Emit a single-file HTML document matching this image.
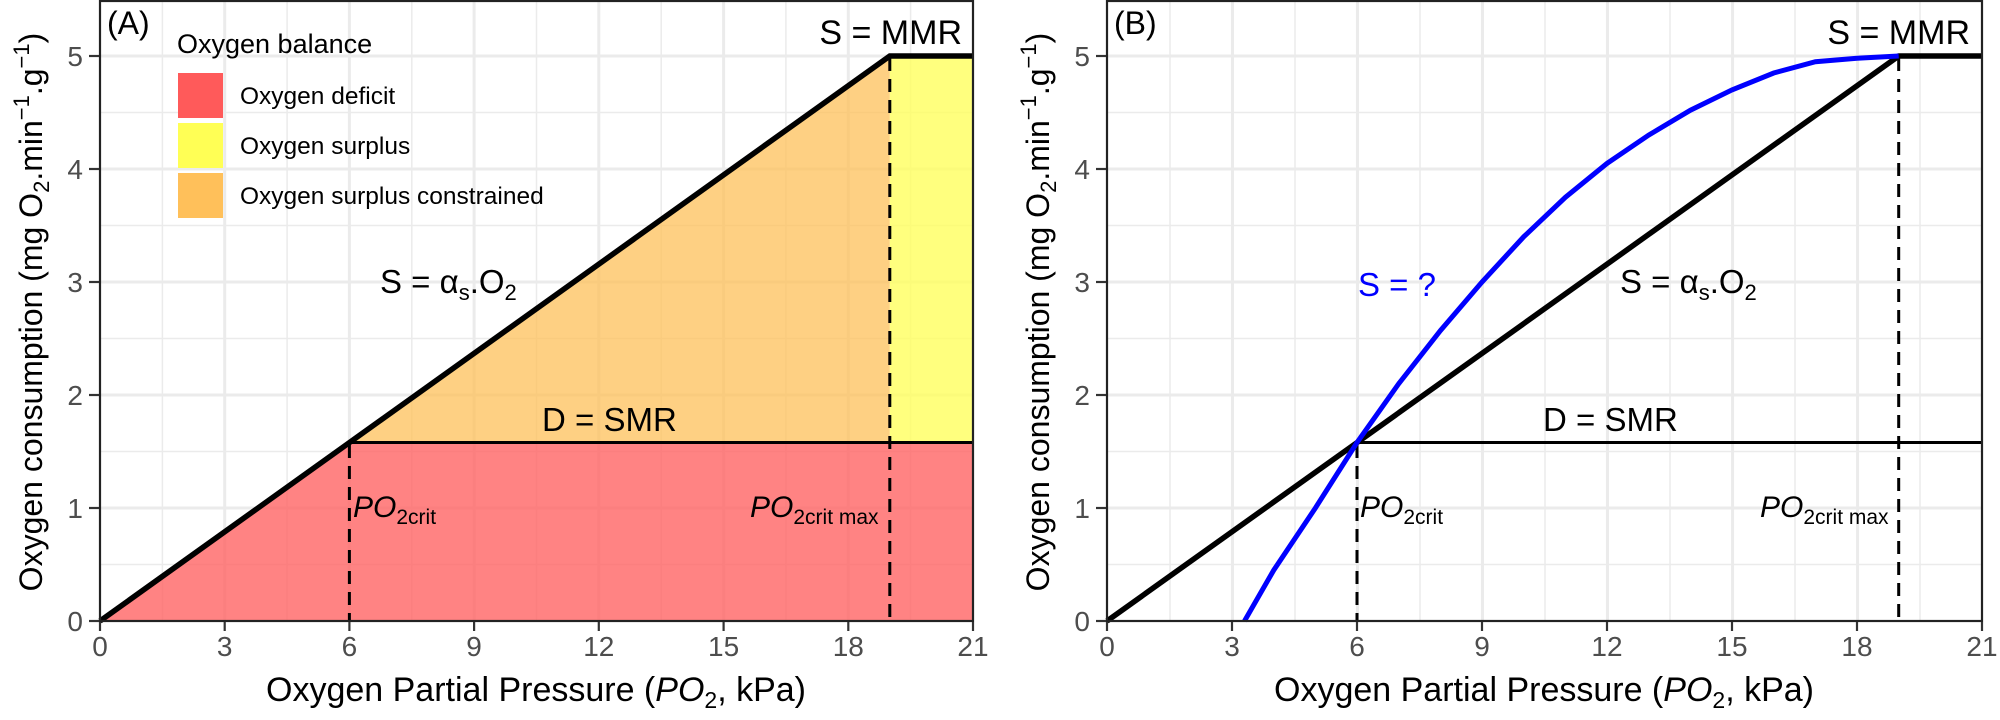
<!DOCTYPE html>
<html><head><meta charset="utf-8"><style>
html,body{margin:0;padding:0;background:#fff}
svg{display:block;font-family:"Liberation Sans",sans-serif}
</style></head><body>
<svg width="2000" height="720" viewBox="0 0 2000 720" xmlns="http://www.w3.org/2000/svg">
<defs>
<g id="gridA">
<g stroke="#ebebeb" stroke-width="1.5">
<line x1="162.4" y1="0" x2="162.4" y2="621"/><line x1="287.1" y1="0" x2="287.1" y2="621"/><line x1="411.8" y1="0" x2="411.8" y2="621"/><line x1="536.5" y1="0" x2="536.5" y2="621"/><line x1="661.2" y1="0" x2="661.2" y2="621"/><line x1="785.9" y1="0" x2="785.9" y2="621"/><line x1="910.6" y1="0" x2="910.6" y2="621"/>
<line x1="100" y1="564.5" x2="973" y2="564.5"/><line x1="100" y1="451.5" x2="973" y2="451.5"/><line x1="100" y1="338.5" x2="973" y2="338.5"/><line x1="100" y1="225.5" x2="973" y2="225.5"/><line x1="100" y1="112.5" x2="973" y2="112.5"/>
</g>
<g stroke="#ebebeb" stroke-width="3">
<line x1="224.7" y1="0" x2="224.7" y2="621"/><line x1="349.4" y1="0" x2="349.4" y2="621"/><line x1="474.1" y1="0" x2="474.1" y2="621"/><line x1="598.8" y1="0" x2="598.8" y2="621"/><line x1="723.6" y1="0" x2="723.6" y2="621"/><line x1="848.3" y1="0" x2="848.3" y2="621"/>
<line x1="100" y1="508" x2="973" y2="508"/><line x1="100" y1="395" x2="973" y2="395"/><line x1="100" y1="282" x2="973" y2="282"/><line x1="100" y1="169" x2="973" y2="169"/><line x1="100" y1="56" x2="973" y2="56"/>
</g>
</g>
</defs>

<!-- Panel A -->
<use href="#gridA"/>
<polygon points="100,621 349.4,442.5 973,442.5 973,621" fill="#ff6060" fill-opacity="0.78"/>
<polygon points="349.4,442.5 889.8,56 889.8,442.5" fill="#fdc05a" fill-opacity="0.75"/>
<polygon points="889.8,442.5 889.8,56 973,56 973,442.5" fill="#ffff5a" fill-opacity="0.78"/>
<line x1="349.4" y1="442.5" x2="973" y2="442.5" stroke="#000" stroke-width="3"/>
<line x1="349.4" y1="445" x2="349.4" y2="621" stroke="#000" stroke-width="3" stroke-dasharray="13,8"/>
<line x1="889.8" y1="58" x2="889.8" y2="621" stroke="#000" stroke-width="3" stroke-dasharray="13,8"/>
<polyline points="100,621 889.8,56 973,56" fill="none" stroke="#000" stroke-width="5.5"/>
<rect x="100" y="1" width="873" height="620" fill="none" stroke="#222" stroke-width="2.2"/>
<!-- legend -->
<text x="177" y="53" font-size="27">Oxygen balance</text>
<rect x="178" y="73" width="45" height="45" fill="#ff5a5a"/>
<rect x="178" y="123" width="45" height="45" fill="#ffff55"/>
<rect x="178" y="173" width="45" height="45" fill="#ffc05a"/>
<text x="240" y="104" font-size="24.5">Oxygen deficit</text>
<text x="240" y="154" font-size="24.5">Oxygen surplus</text>
<text x="240" y="204" font-size="24.5">Oxygen surplus constrained</text>
<text x="107" y="34" font-size="32">(A)</text>
<text x="962" y="44" font-size="34" text-anchor="end">S = MMR</text>
<text x="380" y="293" font-size="33">S = α<tspan font-size="22" dy="7">s</tspan><tspan dy="-7">.O</tspan><tspan font-size="22" dy="7">2</tspan></text>
<text x="542" y="431" font-size="33">D = SMR</text>
<text x="353" y="517" font-size="30" font-style="italic">PO<tspan font-style="normal" font-size="21" dy="7">2crit</tspan></text>
<text x="750" y="517" font-size="30" font-style="italic">PO<tspan font-style="normal" font-size="21" dy="7">2crit max</tspan></text>
<!-- A axes ticks -->
<g stroke="#333" stroke-width="2.2">
<line x1="89" y1="621" x2="99" y2="621"/><line x1="89" y1="508" x2="99" y2="508"/><line x1="89" y1="395" x2="99" y2="395"/><line x1="89" y1="282" x2="99" y2="282"/><line x1="89" y1="169" x2="99" y2="169"/><line x1="89" y1="56" x2="99" y2="56"/>
<line x1="100" y1="622" x2="100" y2="631"/><line x1="224.7" y1="622" x2="224.7" y2="631"/><line x1="349.4" y1="622" x2="349.4" y2="631"/><line x1="474.1" y1="622" x2="474.1" y2="631"/><line x1="598.8" y1="622" x2="598.8" y2="631"/><line x1="723.6" y1="622" x2="723.6" y2="631"/><line x1="848.3" y1="622" x2="848.3" y2="631"/><line x1="973" y1="622" x2="973" y2="631"/>
</g>
<g font-size="28" fill="#4d4d4d" text-anchor="end">
<text x="83" y="631">0</text><text x="83" y="518">1</text><text x="83" y="405">2</text><text x="83" y="292">3</text><text x="83" y="179">4</text><text x="83" y="66">5</text>
</g>
<g font-size="28" fill="#4d4d4d" text-anchor="middle">
<text x="100" y="656">0</text><text x="224.7" y="656">3</text><text x="349.4" y="656">6</text><text x="474.1" y="656">9</text><text x="598.8" y="656">12</text><text x="723.6" y="656">15</text><text x="848.3" y="656">18</text><text x="973" y="656">21</text>
</g>
<text x="536" y="701" font-size="34" text-anchor="middle">Oxygen Partial Pressure (<tspan font-style="italic">PO</tspan><tspan font-size="23" dy="7">2</tspan><tspan dy="-7">, kPa)</tspan></text>
<text transform="translate(42,312) rotate(-90)" font-size="32" text-anchor="middle">Oxygen consumption (mg O<tspan font-size="22" dy="7">2</tspan><tspan dy="-7">.min</tspan><tspan font-size="22" dy="-13">−1</tspan><tspan dy="13">.g</tspan><tspan font-size="22" dy="-13">−1</tspan><tspan dy="13">)</tspan></text>

<!-- Panel B -->
<g transform="translate(1007,0)">
<g transform="translate(-100,0) scale(1.0024,1) translate(100,0)"><use href="#gridA"/></g>
</g>
<line x1="1357" y1="442.5" x2="1982" y2="442.5" stroke="#000" stroke-width="3"/>
<line x1="1357" y1="445" x2="1357" y2="621" stroke="#000" stroke-width="3" stroke-dasharray="13,8"/>
<line x1="1898.7" y1="58" x2="1898.7" y2="621" stroke="#000" stroke-width="3" stroke-dasharray="13,8"/>
<polyline points="1107,621 1898.7,56 1982,56" fill="none" stroke="#000" stroke-width="5.5"/>
<polyline points="1244.5,621 1273.7,570.2 1315.4,508 1357,442.5 1398.7,383.7 1440.4,330.6 1482,282 1523.7,236.8 1565.4,197.3 1607,163.4 1648.7,135.1 1690.4,110.2 1732,89.9 1773.7,73 1815.4,61.7 1857,58.3 1898.7,56" fill="none" stroke="#0000ff" stroke-width="5"/>
<rect x="1107" y="1" width="875" height="620" fill="none" stroke="#222" stroke-width="2.2"/>
<text x="1114" y="34" font-size="32">(B)</text>
<text x="1970" y="44" font-size="34" text-anchor="end">S = MMR</text>
<text x="1358" y="296" font-size="33" fill="#0000ff">S = ?</text>
<text x="1620" y="293" font-size="33">S = α<tspan font-size="22" dy="7">s</tspan><tspan dy="-7">.O</tspan><tspan font-size="22" dy="7">2</tspan></text>
<text x="1543" y="431" font-size="33">D = SMR</text>
<text x="1360" y="517" font-size="30" font-style="italic">PO<tspan font-style="normal" font-size="21" dy="7">2crit</tspan></text>
<text x="1760" y="517" font-size="30" font-style="italic">PO<tspan font-style="normal" font-size="21" dy="7">2crit max</tspan></text>
<g stroke="#333" stroke-width="2.2">
<line x1="1096" y1="621" x2="1106" y2="621"/><line x1="1096" y1="508" x2="1106" y2="508"/><line x1="1096" y1="395" x2="1106" y2="395"/><line x1="1096" y1="282" x2="1106" y2="282"/><line x1="1096" y1="169" x2="1106" y2="169"/><line x1="1096" y1="56" x2="1106" y2="56"/>
<line x1="1107" y1="622" x2="1107" y2="631"/><line x1="1232" y1="622" x2="1232" y2="631"/><line x1="1357" y1="622" x2="1357" y2="631"/><line x1="1482" y1="622" x2="1482" y2="631"/><line x1="1607" y1="622" x2="1607" y2="631"/><line x1="1732" y1="622" x2="1732" y2="631"/><line x1="1857" y1="622" x2="1857" y2="631"/><line x1="1982" y1="622" x2="1982" y2="631"/>
</g>
<g font-size="28" fill="#4d4d4d" text-anchor="end">
<text x="1090" y="631">0</text><text x="1090" y="518">1</text><text x="1090" y="405">2</text><text x="1090" y="292">3</text><text x="1090" y="179">4</text><text x="1090" y="66">5</text>
</g>
<g font-size="28" fill="#4d4d4d" text-anchor="middle">
<text x="1107" y="656">0</text><text x="1232" y="656">3</text><text x="1357" y="656">6</text><text x="1482" y="656">9</text><text x="1607" y="656">12</text><text x="1732" y="656">15</text><text x="1857" y="656">18</text><text x="1982" y="656">21</text>
</g>
<text x="1544" y="701" font-size="34" text-anchor="middle">Oxygen Partial Pressure (<tspan font-style="italic">PO</tspan><tspan font-size="23" dy="7">2</tspan><tspan dy="-7">, kPa)</tspan></text>
<text transform="translate(1049,312) rotate(-90)" font-size="32" text-anchor="middle">Oxygen consumption (mg O<tspan font-size="22" dy="7">2</tspan><tspan dy="-7">.min</tspan><tspan font-size="22" dy="-13">−1</tspan><tspan dy="13">.g</tspan><tspan font-size="22" dy="-13">−1</tspan><tspan dy="13">)</tspan></text>
</svg>
</body></html>
